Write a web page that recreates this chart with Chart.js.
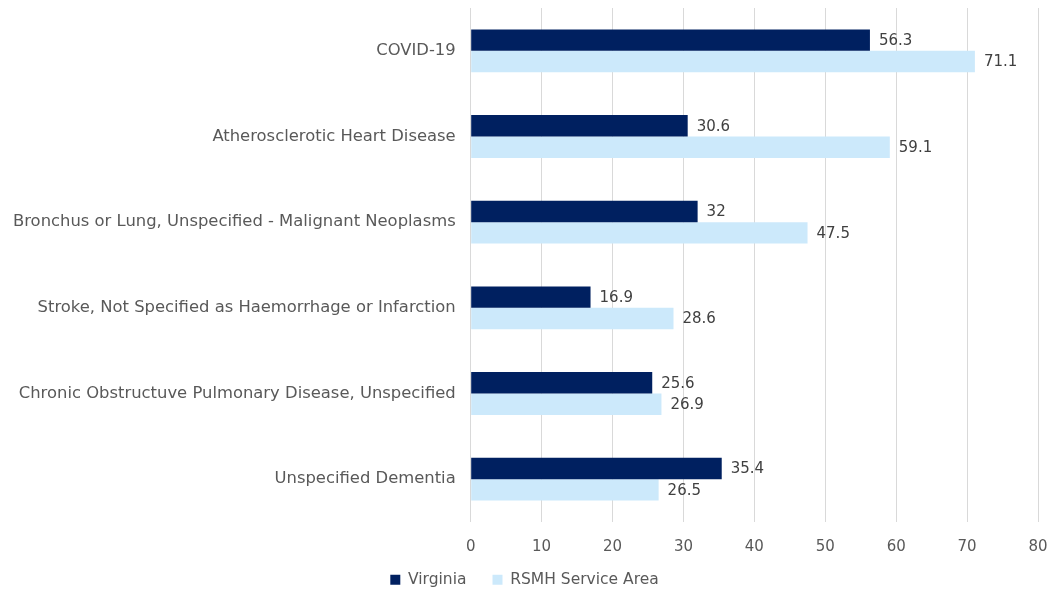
<!DOCTYPE html>
<html>
<head>
<meta charset="utf-8">
<script src="https://cdn.jsdelivr.net/npm/chart.js@4"></script>
<style>
  html, body { margin: 0; padding: 0; background: #fff; }
  #wrap { width: 1051px; height: 591px; }
</style>
</head>
<body>
<div id="wrap"><canvas id="chart"></canvas></div>
<script>
const categories = [
    'COVID-19',
    'Atherosclerotic Heart Disease',
    'Bronchus or Lung, Unspecified - Malignant Neoplasms',
    'Stroke, Not Specified as Haemorrhage or Infarction',
    'Chronic Obstructuve Pulmonary Disease, Unspecified',
    'Unspecified Dementia'
];
const virginia = [56.3, 30.6, 32, 16.9, 25.6, 35.4];
const rsmh = [71.1, 59.1, 47.5, 28.6, 26.9, 26.5];
const xTicks = [0, 10, 20, 30, 40, 50, 60, 70, 80];

const fontFamily = 'DejaVu Sans, Verdana, sans-serif';

// draws value next to the end of each bar
const barValueLabels = {
    id: 'barValueLabels',
    afterDatasetsDraw(chart) {
        const ctx = chart.ctx;
        ctx.save();
        ctx.font = '15px ' + fontFamily;
        ctx.fillStyle = '#404040';
        ctx.textAlign = 'left';
        ctx.textBaseline = 'middle';
        chart.data.datasets.forEach((ds, i) => {
            chart.getDatasetMeta(i).data.forEach((bar, j) => {
                ctx.fillText(String(ds.data[j]), bar.x + 9, bar.y + 1);
            });
        });
        ctx.restore();
    }
};

// legend: keep wide gaps between items but a short box at the bottom
const legendTweak = {
    id: 'legendTweak',
    beforeLayout(chart) {
        const legend = chart.legend;
        if (legend && !legend._tweaked) {
            const fit = legend.fit.bind(legend);
            legend.fit = function () { fit(); this.height = 33; };
            legend._tweaked = true;
        }
    },
    afterLayout(chart) {
        if (chart.legend) {
            chart.legend.top -= 12;
            chart.legend.height += 12;
        }
    }
};

new Chart(document.getElementById('chart'), {
    type: 'bar',
    data: {
        labels: categories,
        datasets: [{
            label: 'Virginia',
            data: virginia,
            backgroundColor: '#002060',
            categoryPercentage: 0.5,
            barPercentage: 1
        }, {
            label: 'RSMH Service Area',
            data: rsmh,
            backgroundColor: '#cce9fb',
            categoryPercentage: 0.5,
            barPercentage: 1
        }]
    },
    options: {
        indexAxis: 'y',
        responsive: true,
        maintainAspectRatio: false,
        animation: false,
        layout: { padding: { left: -2, right: 0, top: 8, bottom: 0 } },
        scales: {
            x: {
                min: 0,
                max: 80,
                afterBuildTicks: (axis) => { axis.ticks = xTicks.map(v => ({ value: v })); },
                afterFit: (s) => { s.height = 36; s.paddingRight = 13; },
                grid: { color: '#d9d9d9', drawTicks: false },
                border: { display: false },
                ticks: { color: '#595959', font: { size: 15, family: fontFamily }, padding: 16 }
            },
            y: {
                grid: { display: false, drawTicks: false },
                border: { display: false },
                ticks: { color: '#595959', font: { size: 16.4, family: fontFamily }, padding: 15 },
                afterFit: (s) => { s.paddingTop = 0; s.paddingBottom = 0; }
            }
        },
        plugins: {
            legend: {
                position: 'bottom',
                labels: {
                    color: '#595959',
                    font: { size: 15.5, family: fontFamily },
                    boxWidth: 10,
                    boxHeight: 10,
                    padding: 26
                }
            },
            tooltip: { enabled: false }
        }
    },
    plugins: [barValueLabels, legendTweak]
});
</script>
</body>
</html>
